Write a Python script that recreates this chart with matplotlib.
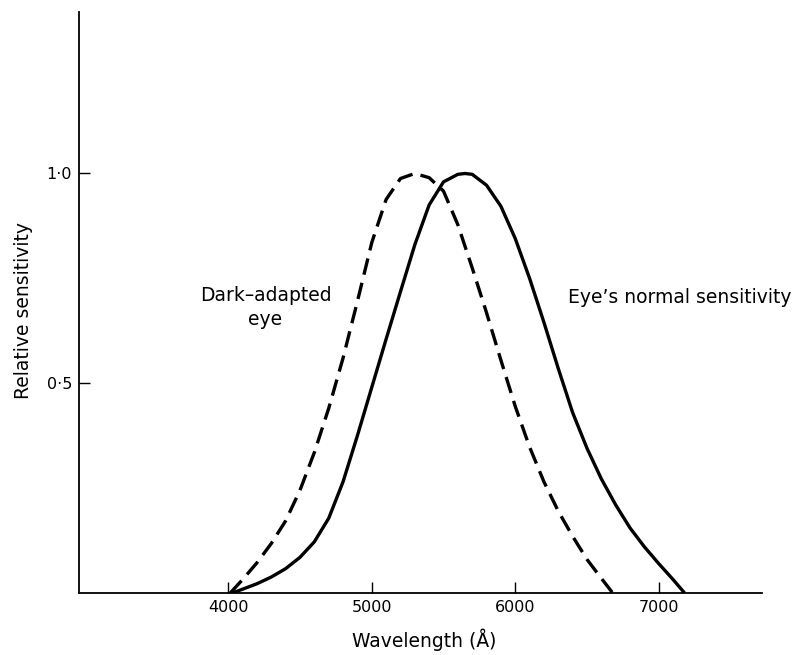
import numpy as np
import matplotlib
matplotlib.use("Agg")
import matplotlib.pyplot as plt

# Data (wavelength in angstrom, relative sensitivity)
normal_wavelength = [4030, 4200, 4300, 4400, 4500, 4600, 4700, 4800, 4900, 5000,
                     5100, 5200, 5300, 5400, 5500, 5600, 5650, 5700, 5800, 5900,
                     6000, 6100, 6200, 6300, 6400, 6500, 6600, 6700, 6800, 6900,
                     7000, 7100, 7180]
normal_sensitivity = [0.0, 0.022, 0.038, 0.058, 0.085, 0.122, 0.178, 0.265, 0.375, 0.490,
                      0.605, 0.718, 0.830, 0.925, 0.980, 0.998, 1.0, 0.998, 0.972, 0.922,
                      0.845, 0.750, 0.645, 0.535, 0.430, 0.345, 0.272, 0.210, 0.155, 0.110,
                      0.070, 0.032, 0.0]

dark_wavelength = [4014, 4100, 4200, 4300, 4400, 4500, 4600, 4700, 4800, 4900,
                   5000, 5100, 5200, 5300, 5400, 5500, 5600, 5700, 5800, 5900,
                   6000, 6100, 6200, 6300, 6400, 6500, 6600, 6679]
dark_sensitivity = [0.0, 0.032, 0.072, 0.118, 0.172, 0.245, 0.335, 0.440, 0.560, 0.695,
                    0.835, 0.938, 0.988, 1.0, 0.990, 0.958, 0.878, 0.775, 0.668, 0.555,
                    0.445, 0.348, 0.265, 0.195, 0.135, 0.080, 0.035, 0.0]

x_ticks = [4000, 5000, 6000, 7000]
y_ticks = [0.5, 1.0]
y_tick_labels = ['0\u00b75', '1\u00b70']

plt.rcParams['font.family'] = ['DejaVu Sans']

fig = plt.figure(figsize=(8.03, 6.55), dpi=100)
ax = fig.add_axes([0.0984, 0.0947, 0.8506, 0.887])

ax.plot(normal_wavelength, normal_sensitivity, color='black', lw=2.4,
        solid_capstyle='butt', solid_joinstyle='round')
ax.plot(dark_wavelength, dark_sensitivity, color='black', lw=2.4,
        dashes=(5, 2.5), dash_capstyle='butt', dash_joinstyle='round')

ax.set_xlim(2960, 7720)
ax.set_ylim(0, 1.385)

ax.set_xticks(x_ticks)
ax.set_xticklabels([str(t) for t in x_ticks])
ax.set_yticks(y_ticks)
ax.set_yticklabels(y_tick_labels)
ax.tick_params(axis='both', direction='in', length=8, width=1, labelsize=11.5, pad=5)

for side in ['top', 'right']:
    ax.spines[side].set_visible(False)
for side in ['left', 'bottom']:
    ax.spines[side].set_linewidth(1.3)

ax.set_xlabel('Wavelength (\u00c5)', fontsize=13.5)
ax.set_ylabel('Relative sensitivity', fontsize=13.5)
ax.xaxis.set_label_coords(0.505, -0.062)
ax.yaxis.set_label_coords(-0.068, 0.487)

ax.text(4260, 0.68, 'Dark\u2013adapted\neye', ha='center', va='center',
        fontsize=13.5, linespacing=1.35)
ax.text(6370, 0.705, 'Eye\u2019s normal sensitivity', ha='left', va='center',
        fontsize=13.5)

fig.savefig('out.png', dpi=100)
